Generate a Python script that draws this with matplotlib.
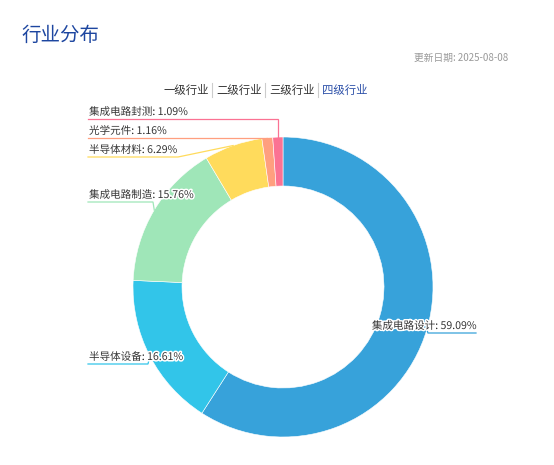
import numpy as np
import matplotlib.pyplot as plt
import matplotlib.patheffects as pe

plt.rcParams['font.family'] = ['Noto Sans CJK SC', 'DejaVu Sans']

# data (clockwise from 12 o'clock)
names = ['集成电路设计', '半导体设备', '集成电路制造', '半导体材料', '光学元件', '集成电路封测']
values = [59.09, 16.61, 15.76, 6.29, 1.16, 1.09]
colors = ['#37a2da', '#32c5e9', '#9fe6b8', '#ffdb5c', '#ff9f7f', '#fb7293']
tabs = ['一级行业', '二级行业', '三级行业', '四级行业']

W, H = 554, 465
fig = plt.figure(figsize=(W / 100, H / 100), dpi=100)
ax = fig.add_axes([0, 0, 1, 1])

cx, cy, r_out, r_in = 283, 287, 150, 101
wedges, _ = ax.pie(values, colors=colors, center=(cx, cy), radius=r_out,
                   startangle=-90, counterclock=True,
                   wedgeprops=dict(width=r_out - r_in, edgecolor='white', linewidth=0.4))
ax.set_xlim(0, W)
ax.set_ylim(H, 0)
ax.set_aspect('equal')
ax.axis('off')

# title, date, tabs
ax.text(22, 35, '行业分布', fontsize=14, color='#1d46a0', va='center', ha='left')
ax.text(508, 58, '更新日期: 2025-08-08', fontsize=7, color='#999999', va='center', ha='right')
tab_x = [163, 216, 269, 322]
for i, t in enumerate(tabs):
    ax.text(tab_x[i], 90, t, fontsize=8.2, va='center', ha='left',
            color='#2b4fa8' if i == 3 else '#333333')
    if i > 0:
        ax.plot([tab_x[i] - 4, tab_x[i] - 4], [83, 97], color='#cccccc', lw=0.8)


def edge_point(w):
    mid = np.deg2rad((w.theta1 + w.theta2) / 2)
    return cx + r_out * np.cos(mid), cy + r_out * np.sin(mid)


stroke = [pe.withStroke(linewidth=2.2, foreground='white')]
# left-side labels: (line y, knee x or None)
left_layout = {5: (119, None), 4: (138, None), 3: (157, 178), 2: (202, 153), 1: (364, 148)}
for i, (ly, kx) in left_layout.items():
    px, py = edge_point(wedges[i])
    if kx is None:
        kx = px
    ax.plot([px, kx, 88], [py, ly, ly], color=colors[i], lw=0.9, solid_joinstyle='miter')
    ax.text(89, ly - 2, f'{names[i]}: {values[i]:.2f}%', fontsize=7.6, color='#333333',
            ha='left', va='bottom', path_effects=stroke)

# right label (inside ring)
px, py = edge_point(wedges[0])
ax.plot([px, px + 1, 476], [py, 333, 333], color=colors[0], lw=0.9)
ax.text(476, 331, f'{names[0]}: {values[0]:.2f}%', fontsize=7.6, color='#333333',
        ha='right', va='bottom', path_effects=stroke)

fig.savefig('out.png', dpi=100)
